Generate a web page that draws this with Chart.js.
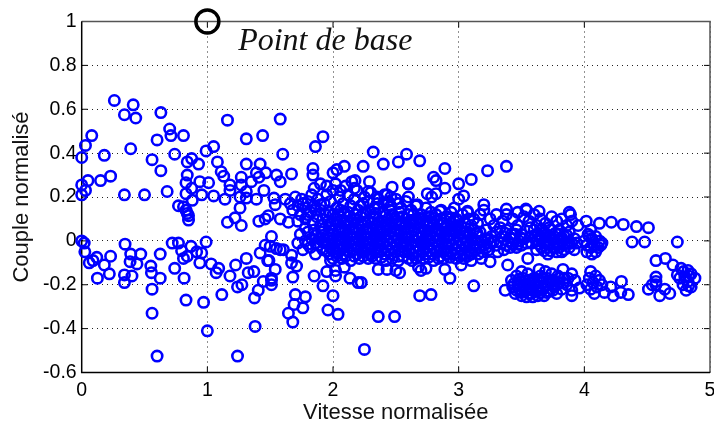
<!DOCTYPE html>
<html>
<head>
<meta charset="utf-8">
<script src="https://cdn.jsdelivr.net/npm/chart.js@4"></script>
<style>
html, body { margin: 0; padding: 0; background: #fff; overflow: hidden; }
#wrap { width: 714px; height: 425px; overflow: hidden; }
</style>
</head>
<body>
<div id="wrap"><canvas id="chartCouple" width="725" height="425"></canvas></div>
<script>
// valeurs : [vitesse, couple]
const hautGauche = [[.26,.64],[.41,.62],[.34,.575],[.43,.56],[.63,.585],[.70,.51],[.71,.48],[.81,.48],[.60,.46],[.08,.48],[.03,.435],[0,.38],[.18,.39],[.39,.42],[.56,.37],[.74,.395],[.63,.32],[.84,.36],[.875,.375],[.93,.35],[.84,.30],[.83,.265],[.94,.27],[1.01,.265],[.99,.41],[1.05,.43],[1.08,.36],[1.11,.315],[1.13,.295],[1.16,.55],[1.31,.465],[1.44,.48],[1.58,.555],[1.86,.43],[1.92,.475],[1.60,.395],[1.31,.35],[1.42,.35],[1.39,.31],[1.465,.31],[1.55,.30],[1.67,.305],[1.84,.33],[1.84,.30],[2.0,.31],[2.09,.34],[2.03,.325],[1.27,.29],[1.18,.255],[1.27,.255],[1.41,.29],[1.35,.27],[1.58,.27],[1.45,.23],[1.31,.225],[1.18,.23],[.23,.295],[.15,.275],[.05,.275],[0,.255],[.03,.23],[0,.21],[.34,.21],[.50,.21],[.68,.225],[.875,.24],[.83,.215],[.88,.185],[.955,.21],[1.05,.205],[1.14,.19],[1.26,.20],[1.31,.195],[1.39,.19],[1.26,.15],[.77,.16],[.81,.155],[.84,.125],[.85,.115],[.85,.095],[1.16,.085],[1.22,.105],[1.27,.07],[1.41,.09],[1.46,.10],[1.485,.115],[1.58,.10],[1.645,.085],[1.53,.195],[1.54,.165],[.83,.14]];
const basGauche = [[0,0],[.02,-.01],[.025,-.05],[.06,-.10],[.09,-.09],[.12,-.075],[.18,-.11],[.23,-.07],[.125,-.17],[.22,-.15],[.345,-.015],[.39,-.06],[.385,-.095],[.44,-.105],[.47,-.06],[.40,-.16],[.34,-.155],[.34,-.19],[.55,-.115],[.555,-.145],[.625,-.17],[.625,-.06],[.56,-.22],[.56,-.33],[.60,-.525],[1.24,-.525],[1.0,-.41],[.97,-.28],[.83,-.27],[1.115,-.245],[1.38,-.39],[1.375,-.26],[1.405,-.225],[1.445,-.185],[1.51,-.20],[1.51,-.18],[1.51,-.17],[1.54,-.13],[1.48,-.09],[1.42,-.055],[1.46,-.02],[1.51,.02],[1.5,-.025],[1.55,-.035],[1.605,-.04],[1.67,-.065],[1.67,-.10],[1.71,-.115],[1.68,-.165],[1.70,-.245],[1.78,-.255],[1.69,-.29],[1.76,-.305],[1.645,-.33],[1.68,-.37],[1.85,-.16],[1.92,-.205],[1.96,-.315],[2.04,-.335],[2.0,-.25],[1.95,-.14],[2.02,-.135],[2.02,-.16],[2.09,-.12],[2.135,-.17],[2.2,-.19],[.72,-.01],[.77,-.01],[.795,-.045],[.87,-.025],[.81,-.08],[.84,-.07],[.915,-.05],[.955,-.055],[.94,-.10],[.99,-.005],[1.03,-.105],[1.09,-.125],[1.07,-.145],[.74,-.125],[.815,-.17],[1.18,-.16],[1.225,-.11],[1.31,-.08],[1.325,-.145],[1.37,-.14],[1.24,-.21],[1.275,-.2],[1.98,-.09],[1.49,-.09],[1.58,-.04]];
const basMilieu = [[2.25,-.495],[2.36,-.345],[2.49,-.345],[2.69,-.25],[2.78,-.245],[2.93,-.17],[2.89,-.13],[3.12,-.205],[3.02,-.11],[2.74,-.125],[2.68,-.12],[2.70,-.135],[2.63,-.09],[2.53,-.145],[2.5,-.135],[2.43,-.13],[2.36,-.13],[2.225,-.19],[3.25,-.095],[3.39,-.11],[3.55,-.08]];
const hautMilieu = [[2.32,.405],[2.585,.395],[2.52,.36],[2.69,.365],[2.24,.34],[2.40,.35],[2.89,.33],[2.80,.29],[2.82,.275],[3.23,.32],[3.38,.34],[3.10,.28],[3.0,.26],[2.89,.24],[2.60,.26],[2.29,.27],[2.47,.245],[2.41,.21],[2.28,.225],[2.60,.20],[2.75,.215],[2.785,.20],[2.82,.215],[3.04,.205],[3.0,.19],[2.965,.15],[2.67,.165],[3.2,.165],[3.38,.145],[3.535,.145],[3.64,.135],[3.07,.135],[2.85,.135],[3.88,.13],[2.175,.275],[2.17,.24],[2.35,.2],[2.46,.2],[2.6,.26],[3.54,.14]];
const nuageHaut = [[1.62,.19],[1.66,.17],[1.70,.2],[1.72,.16],[1.68,.14],[1.75,.19],[1.78,.15],[1.74,.12],[1.8,.18],[1.83,.21],[1.85,.16],[1.82,.13],[1.78,.1],[1.72,.09],[1.88,.19],[1.9,.14],[1.87,.11],[1.93,.17],[1.95,.21],[1.97,.13],[1.92,.1],[1.98,.18],[2.0,.23],[2.03,.15],[2.05,.2],[2.08,.17],[2.02,.26],[2.06,.23],[1.85,.24],[1.9,.26],[1.95,.25],[2.1,.25],[2.12,.21],[2.15,.27],[2.17,.19],[2.19,.23],[2.22,.16],[2.25,.2],[2.28,.18],[2.3,.22],[2.33,.15],[2.36,.19],[2.4,.17],[2.43,.21],[2.46,.16],[2.5,.19],[2.54,.15],[2.58,.18],[2.62,.14],[2.66,.16],[2.7,.12],[2.74,.15],[2.78,.13],[2.82,.12],[2.86,.14],[2.9,.11],[2.94,.13],[2.98,.1],[3.03,.12],[3.07,.13],[3.12,.1],[3.17,.12],[3.2,.14],[3.25,.1],[3.3,.12],[3.35,.09],[3.38,.12],[3.43,.1],[3.47,.13],[3.52,.11],[3.56,.09],[3.6,.12],[3.65,.1],[3.69,.08],[3.74,.11],[3.78,.09],[3.82,.1],[3.86,.07],[3.9,.09],[3.47,.07],[3.57,.06],[3.62,.07],[3.33,.06],[3.28,.07],[3.72,.06],[3.8,.05],[2.12,.13],[2.18,.12],[2.26,.13],[2.32,.11],[2.4,.13],[2.47,.12],[2.55,.11],[2.6,.12]];
const massifA = [[1.78,.06],[1.84,.08],[1.9,.07],[1.96,.09],[2.01,.1],[2.06,.11],[2.11,.09],[2.17,.1],[2.22,.11],[2.28,.09],[2.33,.1],[2.39,.09],[2.44,.1],[2.5,.09],[2.55,.08],[2.61,.09],[2.66,.1],[2.72,.09],[2.77,.08],[2.83,.09],[2.88,.08],[2.94,.08],[2.99,.07],[3.05,.08],[3.1,.07],
[1.74,.03],[1.8,.04],[1.85,.05],[1.91,.04],[1.97,.06],[2.02,.07],[2.07,.06],[2.13,.07],[2.18,.06],[2.24,.07],[2.29,.06],[2.35,.07],[2.4,.06],[2.46,.06],[2.51,.05],[2.57,.06],[2.62,.07],[2.68,.06],[2.73,.05],[2.79,.06],[2.84,.05],[2.9,.06],[2.95,.05],[3.01,.05],[3.06,.04],[3.12,.05],[3.17,.04],[3.22,.05],
[1.72,-.01],[1.78,.0],[1.83,.01],[1.89,.01],[1.95,.02],[2.0,.03],[2.05,.04],[2.11,.03],[2.16,.04],[2.22,.03],[2.27,.04],[2.33,.03],[2.38,.04],[2.44,.03],[2.49,.03],[2.55,.02],[2.6,.04],[2.66,.03],[2.71,.02],[2.77,.03],[2.82,.03],[2.88,.02],[2.93,.03],[2.99,.02],[3.04,.02],[3.1,.01],[3.15,.02],[3.21,.01],[3.26,.02],
[1.76,-.04],[1.82,-.03],[1.88,-.02],[1.94,-.01],[1.99,.0],[2.04,.01],[2.1,.0],[2.15,.01],[2.21,.0],[2.26,.01],[2.32,.0],[2.37,.01],[2.43,.0],[2.48,.0],[2.54,-.01],[2.59,.01],[2.65,.0],[2.7,-.01],[2.76,.0],[2.81,.0],[2.87,-.01],[2.92,.0],[2.98,-.01],[3.03,-.01],[3.09,-.02],[3.14,-.01],[3.2,-.02],[3.25,-.01],[3.3,-.02]];
const massifB = [[1.86,-.06],[1.92,-.04],[1.98,-.03],[2.03,-.02],[2.09,-.03],[2.14,-.02],[2.2,-.03],[2.25,-.02],[2.31,-.03],[2.36,-.02],[2.42,-.03],[2.47,-.03],[2.53,-.04],[2.58,-.02],[2.64,-.03],[2.69,-.04],[2.75,-.03],[2.8,-.03],[2.86,-.04],[2.91,-.03],[2.97,-.04],[3.02,-.04],[3.08,-.05],[3.13,-.04],[3.19,-.05],[3.24,-.04],
[1.97,-.06],[2.02,-.05],[2.08,-.06],[2.13,-.05],[2.19,-.06],[2.24,-.05],[2.3,-.06],[2.35,-.05],[2.41,-.06],[2.46,-.06],[2.52,-.07],[2.57,-.05],[2.63,-.06],[2.68,-.07],[2.74,-.06],[2.79,-.06],[2.85,-.07],[2.9,-.06],[2.96,-.06],[3.01,-.07],[3.07,-.07],[3.18,-.08],
[2.0,-.08],[2.07,-.08],[2.14,-.09],[2.21,-.08],[2.28,-.08],[2.34,-.08],[2.42,-.09],[2.52,-.09],[2.6,-.08],[2.72,-.08],[2.8,-.09],[2.88,-.08],[2.98,-.08],[3.1,-.09],
[2.0,.12],[2.09,.13],[2.2,.14],[2.3,.13],[2.36,.15],[2.45,.14],[2.53,.13],[2.64,.12],[2.7,.1],[2.76,.11],[2.86,.1],[2.93,.1],[3.0,.09],[3.08,.1],[3.15,.08]];
const massifC = [[1.98,.075],[2.03,.085],[2.085,.08],[2.14,.085],[2.195,.08],[2.25,.085],[2.305,.08],[2.36,.085],[2.415,.075],[2.47,.08],[2.525,.075],[2.58,.075],[2.635,.085],[2.69,.08],[2.745,.07],[2.8,.075],[2.855,.07],[2.91,.07],[2.97,.065],[3.02,.065],
[1.93,.055],[1.99,.045],[2.045,.05],[2.1,.05],[2.155,.055],[2.21,.05],[2.265,.055],[2.32,.05],[2.375,.05],[2.43,.05],[2.485,.045],[2.54,.045],[2.595,.055],[2.65,.05],[2.705,.04],[2.76,.045],[2.815,.045],[2.87,.04],[2.925,.045],[2.98,.04],[3.035,.035],[3.09,.035],[3.145,.035],
[1.86,.025],[1.92,.025],[1.975,.01],[2.03,.02],[2.08,.015],[2.135,.02],[2.19,.015],[2.245,.02],[2.3,.015],[2.355,.02],[2.41,.02],[2.465,.015],[2.52,.01],[2.575,.015],[2.63,.02],[2.685,.015],[2.74,.01],[2.795,.015],[2.85,.01],[2.905,.015],[2.96,.01],[3.015,.005],[3.07,.0],[3.125,.005],[3.18,.0],[3.235,.005],
[1.8,-.015],[1.86,-.01],[1.92,-.005],[1.965,-.015],[2.015,-.01],[2.07,-.015],[2.125,-.01],[2.18,-.015],[2.235,-.01],[2.29,-.015],[2.345,-.01],[2.4,-.015],[2.455,-.015],[2.51,-.02],[2.565,-.01],[2.62,-.015],[2.675,-.025],[2.73,-.015],[2.785,-.015],[2.84,-.025],[2.895,-.015],[2.95,-.02],[3.0,-.025],[3.06,-.03],[3.115,-.03],[3.17,-.03],[3.22,-.03],
[1.95,-.045],[2.0,-.04],[2.055,-.04],[2.11,-.045],[2.165,-.04],[2.22,-.04],[2.275,-.04],[2.33,-.04],[2.385,-.04],[2.44,-.045],[2.495,-.05],[2.55,-.045],[2.605,-.045],[2.66,-.05],[2.715,-.05],[2.77,-.045],[2.825,-.05],[2.88,-.05],[2.935,-.05],[2.99,-.055],[3.045,-.06],[3.1,-.06],[3.155,-.06],
[2.03,-.07],[2.1,-.07],[2.17,-.07],[2.24,-.07],[2.31,-.07],[2.385,-.075],[2.47,-.08],[2.56,-.07],[2.66,-.08],[2.76,-.075],[2.84,-.08],[2.93,-.075],[3.04,-.08],
[2.04,.12],[2.13,.11],[2.24,.125],[2.34,.125],[2.42,.115],[2.49,.105],[2.58,.1],[2.68,.105],[2.8,.105],[1.94,.12],[1.9,.165],[1.86,.14],[1.8,.12],[1.76,.17],[2.06,.14],[2.14,.16],[2.24,.17],[2.35,.17],[2.44,.18],[2.52,.17]];
const massifDroite = [[3.3,.04],[3.35,.02],[3.38,.05],[3.42,.03],[3.46,.05],[3.5,.03],[3.34,-.01],[3.39,.0],[3.44,.01],[3.48,.0],[3.52,.01],[3.36,-.04],[3.41,-.03],[3.46,-.03],[3.5,-.02],[3.54,-.01],[3.31,-.05],[3.28,.0],[3.58,.02],[3.6,.05],[3.63,.03],[3.66,.05],[3.7,.03],[3.73,.05],[3.76,.02],[3.8,.03],[3.84,.02],[3.88,.04],[3.92,.01],[3.58,-.01],[3.62,.0],[3.66,.01],[3.7,.0],[3.74,.01],[3.78,-.01],[3.82,.0],[3.86,-.01],[3.9,-.01],[3.94,-.01],[3.62,-.04],[3.66,-.03],[3.7,-.03],[3.75,-.03],[3.8,-.03],[3.84,-.04],[3.88,-.03],[3.71,-.06],[3.78,-.05],[3.92,-.04],
[3.37,.035],[3.41,.015],[3.45,.03],[3.49,.015],[3.38,-.02],[3.43,-.015],[3.47,-.015],[3.61,.025],[3.65,.02],[3.68,.035],[3.72,.02],[3.77,.035],[3.82,.015],[3.86,.025],[3.64,-.015],[3.68,-.01],[3.72,-.015],[3.76,-.015],[3.8,-.015],[3.84,-.015],[3.88,-.01],[3.68,-.045],[3.73,-.045],[3.82,-.05],
[4.0,.0],[4.03,.03],[4.06,.01],[4.09,.02],[4.12,.0],[4.14,-.01],[4.02,-.02],[4.05,-.03],[4.08,-.02],[4.11,-.03],[4.02,-.05],[4.06,-.06],[4.09,-.05],[4.05,.05],[4.04,.02],[4.13,-.02]];
const amasBas = [[3.37,-.225],[3.42,-.18],[3.43,-.21],[3.45,-.24],[3.46,-.16],[3.47,-.19],[3.48,-.22],[3.5,-.25],[3.5,-.14],[3.51,-.17],[3.52,-.2],[3.53,-.23],[3.54,-.255],[3.55,-.15],[3.56,-.18],[3.57,-.21],[3.58,-.24],[3.59,-.255],[3.6,-.17],[3.61,-.2],[3.62,-.23],[3.63,-.25],[3.64,-.13],[3.65,-.16],[3.66,-.19],[3.67,-.22],[3.68,-.25],[3.69,-.14],[3.7,-.17],[3.71,-.2],[3.72,-.23],[3.74,-.15],[3.75,-.18],[3.76,-.21],[3.78,-.24],[3.79,-.16],[3.8,-.19],[3.82,-.22],[3.83,-.13],[3.84,-.17],[3.86,-.2],[3.87,-.17],[3.9,-.225],[3.9,-.25],[3.9,-.15],[3.925,-.18],[3.96,-.215],[4.05,-.14],[4.02,-.2],[4.04,-.17],[4.05,-.22],[4.07,-.19],[4.08,-.24],[4.09,-.16],[4.1,-.21],[4.12,-.18],[4.14,-.2],[4.16,-.235],[4.21,-.21],[4.23,-.25],[4.295,-.185],[4.29,-.235],[4.35,-.245],
[3.44,-.195],[3.46,-.225],[3.49,-.205],[3.5,-.235],[3.48,-.175],[3.53,-.185],[3.54,-.215],[3.56,-.24],[3.57,-.195],[3.59,-.225],[3.6,-.185],[3.63,-.21],[3.65,-.235],[3.64,-.18],[3.69,-.205],[3.7,-.235],[3.67,-.17],[3.73,-.19],[3.75,-.225],[3.78,-.2],[3.8,-.17],[3.83,-.19]];
const basDroite = [[4.51,-.22],[4.57,-.09],[4.645,-.08],[4.705,-.11],[4.57,-.165],[4.57,-.185],[4.54,-.20],[4.60,-.25],[4.68,-.24],[4.64,-.22],[4.74,-.155],[4.77,-.125],[4.825,-.135],[4.85,-.15],[4.88,-.17],[4.80,-.165],[4.81,-.225],[4.85,-.21],[4.785,-.20],[4.825,-.185],[4.76,-.17],[4.79,-.14],[4.83,-.16],[4.57,-.2],[4.83,-.205],
[4.51,.06],[4.415,.065],[4.31,.075],[4.215,.085],[4.12,.08],[4.015,.09],[3.95,.07],[4.38,-.005],[4.48,-.005],[4.74,-.005],[3.89,.12]];
const pointBase = [[1, 1]];
const ticksX = [0, 1, 2, 3, 4, 5];
const ticksY = [-0.6, -0.4, -0.2, 0, 0.2, 0.4, 0.6, 0.8, 1];

const tousLesPoints = [].concat(hautGauche, basGauche, basMilieu, hautMilieu, nuageHaut, massifA, massifB, massifC, massifDroite, amasBas, basDroite);

function versXY(liste) {
    return liste.map(p => ({ x: p[0], y: p[1] }));
}

// cadre, petits traits vers l'intérieur et étiquette
const cadrePlugin = {
    id: "cadre",
    beforeDatasetsDraw(chart) {
        const { ctx, chartArea: a, scales } = chart;
        ctx.save();
        ctx.strokeStyle = "#000";
        ctx.lineWidth = 1;
        ticksX.slice(1, -1).forEach(v => {
            const px = scales.x.getPixelForValue(v);
            ctx.beginPath(); ctx.moveTo(px, a.bottom); ctx.lineTo(px, a.bottom - 6); ctx.stroke();
            ctx.beginPath(); ctx.moveTo(px, a.top); ctx.lineTo(px, a.top + 6); ctx.stroke();
        });
        ticksY.slice(1, -1).forEach(v => {
            const py = scales.y.getPixelForValue(v);
            ctx.beginPath(); ctx.moveTo(a.left, py); ctx.lineTo(a.left + 6, py); ctx.stroke();
            ctx.beginPath(); ctx.moveTo(a.right, py); ctx.lineTo(a.right - 6, py); ctx.stroke();
        });
        ctx.strokeStyle = "#555";
        ctx.lineWidth = 1.5;
        ctx.beginPath(); ctx.moveTo(a.left, a.top); ctx.lineTo(a.right, a.top); ctx.lineTo(a.right, a.bottom); ctx.stroke();
        ctx.strokeStyle = "#000";
        ctx.beginPath(); ctx.moveTo(a.left, a.top); ctx.lineTo(a.left, a.bottom); ctx.lineTo(a.right, a.bottom); ctx.stroke();
        ctx.restore();
    },
    afterDatasetsDraw(chart) {
        const { ctx, scales } = chart;
        ctx.save();
        ctx.fillStyle = "#111";
        ctx.font = "italic 32px 'Liberation Serif'";
        ctx.textBaseline = "alphabetic";
        ctx.fillText("Point de base", scales.x.getPixelForValue(1.245), scales.y.getPixelForValue(0.87));
        ctx.restore();
    }
};

new Chart(document.getElementById("chartCouple").getContext("2d"), {
    type: "scatter",
    data: {
        datasets: [
            {
                label: "Point de base",
                data: versXY(pointBase),
                pointStyle: "circle",
                pointRadius: 11.5,
                pointBorderWidth: 3.5,
                pointBorderColor: "#000",
                pointBackgroundColor: "rgba(0,0,0,0)",
                clip: false
            },
            {
                label: "Couple",
                data: versXY(tousLesPoints),
                pointStyle: "circle",
                pointRadius: 5.2,
                pointBorderWidth: 2.6,
                pointBorderColor: "#0000ff",
                pointBackgroundColor: "rgba(0,0,0,0)",
                clip: false
            }
        ]
    },
    options: {
        responsive: false,
        animation: false,
        layout: { padding: { top: 21.5, right: 4, left: 0, bottom: 0 } },
        plugins: { legend: { display: false }, tooltip: { enabled: false } },
        scales: {
            x: {
                type: "linear",
                min: 0,
                max: 5,
                afterBuildTicks(scale) { scale.ticks = ticksX.map(v => ({ value: v })); },
                afterFit(scale) { scale.height = 52.5; scale.paddingLeft = 0; scale.paddingRight = 0; },
                border: { display: false, dash: [1, 4] },
                grid: { color: "#222", lineWidth: 1, drawTicks: false },
                ticks: {
                    color: "#000",
                    font: { family: "'Liberation Sans'", size: 19.5 },
                    padding: 6,
                    maxRotation: 0,
                    callback: v => String(v)
                },
                title: {
                    display: true,
                    text: "Vitesse normalisée",
                    color: "#111",
                    font: { family: "'Liberation Sans'", size: 22 },
                    padding: { top: 0, bottom: -1 }
                }
            },
            y: {
                type: "linear",
                min: -0.6,
                max: 1,
                afterBuildTicks(scale) { scale.ticks = ticksY.map(v => ({ value: v })); },
                afterFit(scale) { scale.width = 81.7; scale.paddingTop = 0; scale.paddingBottom = 0; },
                border: { display: false, dash: [1, 4] },
                grid: { color: "#222", lineWidth: 1, drawTicks: false },
                ticks: {
                    color: "#000",
                    font: { family: "'Liberation Sans'", size: 19.5 },
                    padding: 5,
                    callback: v => String(Math.round(v * 10) / 10)
                },
                title: {
                    display: true,
                    text: "Couple normalisé",
                    color: "#111",
                    font: { family: "'Liberation Sans'", size: 22 },
                    padding: { top: 9, bottom: 0 }
                }
            }
        }
    },
    plugins: [cadrePlugin]
});
</script>
</body>
</html>
